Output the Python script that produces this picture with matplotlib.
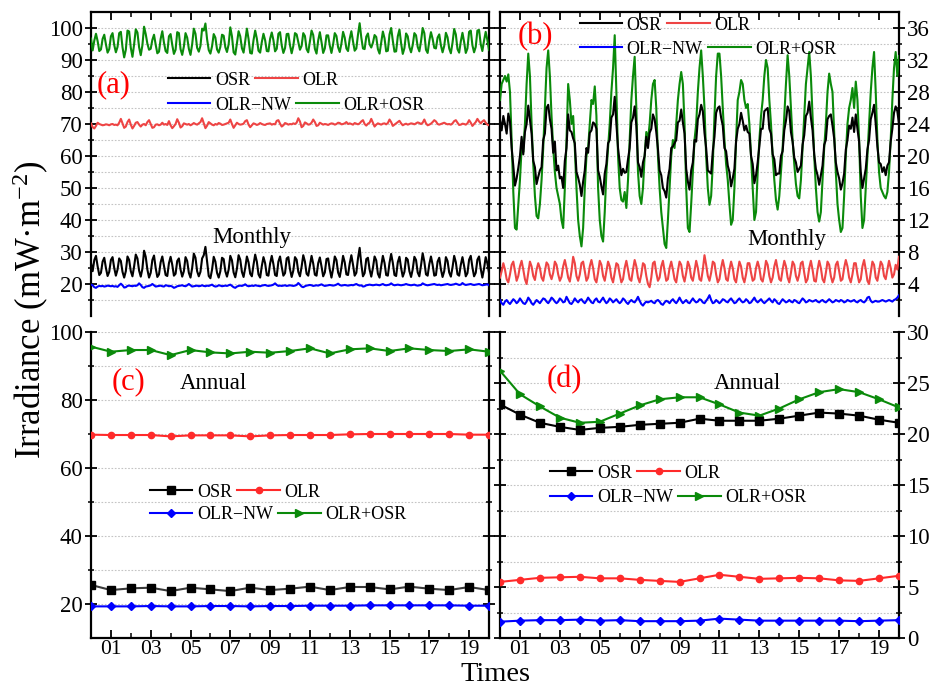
import numpy as np
import matplotlib
matplotlib.use("Agg")
import matplotlib.pyplot as plt
from matplotlib.ticker import FixedLocator, NullFormatter
from matplotlib.lines import Line2D

plt.rcParams["font.family"] = ["Liberation Serif", "DejaVu Serif"]
plt.rcParams["mathtext.fontset"] = "custom"
plt.rcParams["mathtext.rm"] = "Liberation Serif"
plt.rcParams["mathtext.it"] = "Liberation Serif:italic"

# ---------------- monthly series, panel (a) ----------------
osr_month_a = [
    26.5, 24.0, 27.5, 28.8, 25.5, 22.8, 23.5, 27.0, 28.2, 25.0, 22.5, 23.8,
    27.5, 28.4, 25.0, 22.6, 24.5, 28.0, 27.2, 23.8, 22.0, 24.0, 28.6, 27.5,
    24.0, 22.4, 25.5, 29.2, 28.0, 24.2, 22.3, 24.8, 30.4, 28.5, 24.5, 22.0,
    23.5, 27.5, 28.9, 25.0, 22.2, 23.0, 26.8, 28.6, 25.6, 22.8, 22.5, 26.5,
    28.5, 26.0, 22.6, 23.2, 27.2, 28.0, 24.5, 22.3, 24.0, 28.4, 27.2, 23.5,
    22.0, 25.0, 29.5, 28.2, 24.0, 22.4, 23.8, 28.0, 29.0, 31.6, 27.0, 22.5,
    21.8, 24.5, 28.5, 27.0, 23.5, 22.0, 24.0, 28.2, 27.8, 24.0, 22.3, 24.5,
    28.8, 27.4, 23.6, 22.1, 24.8, 29.0, 27.6, 23.8, 22.2, 25.0, 28.6, 26.8,
    23.2, 22.4, 26.0, 29.2, 27.0, 23.0, 22.0, 25.6, 28.4, 26.5, 22.8, 22.6,
    26.4, 28.8, 26.2, 22.8, 22.5, 27.0, 28.6, 25.4, 22.6, 23.4, 28.0, 28.4,
    24.6, 22.2, 24.2, 28.4, 27.6, 23.8, 22.4, 25.4, 29.0, 27.0, 23.2, 22.6,
    25.8, 28.8, 26.4, 22.9, 22.6, 26.5, 28.3, 25.5, 22.4, 23.6, 27.8, 28.0,
    24.5, 22.0, 24.8, 28.6, 27.5, 23.6, 22.2, 25.2, 28.8, 26.8, 23.0, 22.8,
    26.4, 29.0, 26.0, 22.6, 23.5, 28.0, 31.3, 26.2, 22.4, 23.4, 27.8, 28.2,
    24.5, 22.3, 25.0, 28.6, 27.4, 23.2, 22.0, 25.6, 28.8, 26.6, 22.8, 22.6,
    26.6, 29.4, 26.6, 22.8, 22.5, 26.8, 28.5, 25.0, 22.3, 23.8, 28.2, 27.6,
    24.0, 22.2, 24.6, 28.5, 27.5, 23.6, 22.4, 25.8, 29.6, 27.0, 23.0, 22.6,
    26.2, 28.6, 26.0, 22.6, 22.8, 27.0, 28.2, 24.6, 22.2, 24.0, 28.4, 27.2,
    23.6, 22.3, 25.2, 28.8, 26.8, 23.0, 22.6, 26.0, 28.4, 25.6, 22.4, 23.4,
    27.6, 28.8, 25.2, 22.4, 23.5, 27.6, 28.6, 24.8, 22.0, 24.8, 28.4, 26.5,
    23.5,
]
olr_month_a = [
    70.2, 69.0, 68.6, 69.4, 70.4, 70.0, 69.8, 69.6, 69.7, 69.9, 69.8, 69.6,
    69.9, 70.0, 69.7, 69.8, 69.6, 70.4, 71.6, 70.2, 68.8, 69.2, 70.6, 71.4,
    69.8, 68.6, 69.4, 70.4, 70.6, 69.8, 69.2, 69.8, 70.0, 69.6, 70.6, 71.2,
    70.0, 68.8, 69.0, 69.8, 69.9, 69.6, 69.8, 70.4, 69.8, 70.0, 69.7, 70.9,
    69.6, 68.7, 69.3, 70.0, 71.5, 70.4, 68.9, 69.3, 70.2, 70.0, 69.8, 70.0,
    69.6, 69.9, 70.3, 70.0, 69.8, 70.2, 70.6, 71.8, 70.2, 68.7, 69.5, 70.6,
    70.2, 69.8, 69.6, 70.0, 69.8, 70.3, 70.1, 69.7, 69.8, 70.0, 70.2, 70.4,
    71.4, 70.0, 68.8, 69.6, 70.4, 70.0, 69.8, 69.9, 70.1, 70.9, 71.2, 69.8,
    69.0, 69.6, 70.2, 70.0, 69.7, 69.9, 70.3, 70.0, 69.8, 69.7, 70.0, 70.1,
    70.2, 69.8, 70.0, 69.9, 71.0, 71.2, 70.1, 69.2, 69.6, 70.3, 70.1, 69.8,
    70.0, 69.9, 70.2, 70.0, 70.4, 71.8, 70.8, 69.0, 69.4, 70.5, 70.2, 69.8,
    69.9, 70.4, 71.4, 70.6, 69.4, 69.6, 70.4, 70.1, 69.8, 70.0, 69.9, 69.7,
    70.0, 70.2, 70.1, 69.8, 70.0, 70.4, 70.3, 69.9, 70.0, 70.2, 70.6, 70.0,
    70.2, 70.0, 69.8, 70.3, 70.1, 69.9, 70.2, 70.8, 71.2, 70.0, 69.5, 70.1,
    70.4, 71.6, 70.4, 69.2, 69.8, 70.2, 70.0, 69.8, 70.1, 70.2, 69.9, 70.3,
    71.4, 70.6, 69.4, 69.8, 70.2, 70.6, 71.0, 70.2, 69.6, 69.9, 70.1, 69.8,
    70.0, 70.2, 70.1, 69.9, 70.2, 70.5, 70.3, 70.0, 70.4, 71.4, 70.2, 69.6,
    69.8, 70.1, 70.6, 71.2, 70.8, 70.0, 69.8, 70.0, 70.2, 70.4, 70.1, 69.9,
    70.0, 69.8, 70.2, 70.9, 71.2, 70.4, 69.7, 69.8, 70.1, 70.0, 69.8, 70.2,
    71.2, 70.4, 69.4, 70.0, 70.6, 71.6, 70.8, 70.2, 70.8, 71.2, 70.4, 69.8,
    69.6,
]
nw_month_a = [
    19.8, 19.6, 19.0, 18.8, 19.2, 19.4, 19.3, 19.4, 19.2, 19.3, 19.5, 19.4,
    19.3, 19.4, 19.2, 19.3, 19.1, 19.6, 20.1, 19.6, 18.9, 19.0, 19.4, 19.5,
    19.4, 19.3, 19.5, 19.4, 19.6, 20.2, 19.7, 19.0, 18.8, 19.2, 19.3, 19.4,
    19.6, 20.0, 19.6, 19.2, 19.3, 19.4, 19.5, 19.3, 19.2, 19.6, 19.5, 19.3,
    19.4, 19.2, 18.8, 19.0, 19.3, 19.4, 19.5, 19.6, 19.4, 19.3, 19.6, 20.0,
    19.6, 19.2, 19.3, 19.4, 19.5, 19.3, 19.4, 19.6, 19.4, 19.3, 19.5, 19.4,
    19.6, 19.8, 19.4, 19.2, 19.3, 19.6, 19.5, 19.3, 19.4, 19.5, 19.4, 19.6,
    19.8, 19.4, 19.0, 18.8, 19.2, 19.4, 19.5, 19.4, 19.6, 19.9, 19.5, 19.3,
    19.4, 19.5, 19.4, 19.6, 19.5, 19.4, 19.3, 19.5, 19.6, 19.7, 19.5, 19.4,
    19.5, 19.6, 19.8, 20.2, 19.7, 19.4, 19.5, 19.4, 19.5, 19.6, 19.4, 19.5,
    19.6, 19.5, 19.4, 19.5, 19.7, 20.3, 19.8, 19.2, 19.0, 19.3, 19.5, 19.6,
    19.7, 19.6, 19.4, 19.5, 19.6, 19.5, 19.7, 19.9, 19.6, 19.4, 19.5, 19.6,
    19.7, 19.6, 19.5, 19.6, 19.8, 20.1, 19.7, 19.5, 19.6, 19.7, 19.6, 19.5,
    19.6, 19.7, 19.6, 19.8, 20.0, 19.7, 19.5, 19.6, 19.2, 19.3, 19.6, 19.7,
    19.8, 19.7, 19.6, 19.7, 19.8, 19.7, 19.6, 19.8, 20.0, 19.7, 19.6, 19.7,
    19.8, 20.2, 19.8, 19.6, 19.7, 19.8, 19.7, 19.6, 19.7, 19.8, 20.0, 19.8,
    19.7, 19.6, 19.7, 19.8, 19.6, 19.5, 19.6, 19.7, 20.2, 19.9, 19.7, 19.6,
    19.7, 19.8, 19.9, 20.0, 19.8, 19.7, 19.8, 19.6, 19.7, 19.8, 19.9, 20.0,
    19.8, 19.7, 19.8, 19.9, 20.1, 19.9, 19.7, 19.8, 20.3, 19.9, 19.7, 19.8,
    19.9, 20.0, 19.8, 19.7, 19.8, 19.9, 20.0, 19.8, 19.6, 19.7, 19.8, 19.9,
    19.6,
]
sum_month_a = [
    96.7, 93.0, 96.1, 98.2, 95.9, 92.8, 93.3, 96.6, 97.9, 94.9, 92.3, 93.4,
    97.4, 98.4, 94.7, 92.4, 94.1, 98.4, 98.8, 94.0, 90.8, 93.2, 99.2, 98.9,
    93.8, 91.0, 94.9, 99.6, 98.6, 94.0, 91.5, 94.6, 100.4, 98.1, 95.1, 93.2,
    93.5, 96.3, 97.9, 94.8, 92.1, 92.6, 96.6, 99.0, 95.4, 92.8, 92.2, 97.4,
    98.1, 94.7, 91.9, 93.2, 98.7, 98.4, 93.4, 91.6, 94.2, 98.4, 97.0, 93.5,
    91.6, 94.9, 99.8, 98.2, 93.8, 92.6, 94.4, 99.8, 99.2, 101.4, 96.5, 93.1,
    92.0, 94.3, 98.1, 97.0, 93.3, 92.3, 94.1, 97.9, 97.6, 94.0, 92.5, 94.9,
    100.2, 97.4, 92.4, 91.7, 95.2, 99.0, 97.4, 93.7, 92.3, 95.9, 99.8, 96.6,
    92.2, 92.0, 96.2, 99.2, 96.7, 92.9, 92.3, 95.6, 98.2, 96.2, 92.8, 92.7,
    96.6, 98.6, 96.2, 92.7, 93.5, 98.2, 98.7, 94.6, 92.2, 93.7, 98.1, 98.2,
    94.6, 92.1, 94.4, 98.4, 98.0, 95.6, 93.2, 94.4, 98.4, 97.5, 93.4, 92.4,
    95.7, 99.2, 97.8, 93.5, 92.0, 96.1, 98.7, 95.6, 92.2, 93.6, 97.7, 97.7,
    94.5, 92.2, 94.9, 98.4, 97.5, 94.0, 92.5, 95.1, 98.8, 97.0, 93.6, 92.8,
    96.6, 99.0, 95.8, 92.9, 93.6, 97.9, 101.5, 97.0, 93.6, 93.4, 97.3, 98.3,
    94.9, 93.9, 95.4, 97.8, 97.2, 93.4, 92.0, 95.4, 98.9, 96.8, 92.7, 92.9,
    98.0, 100.0, 96.0, 92.6, 92.7, 97.4, 99.5, 95.2, 91.9, 93.7, 98.3, 97.4,
    94.0, 92.4, 94.7, 98.4, 97.7, 94.1, 92.7, 95.8, 100.0, 98.4, 93.2, 92.2,
    96.0, 98.7, 96.6, 93.8, 93.6, 97.0, 98.0, 94.6, 92.4, 94.4, 98.5, 97.1,
    93.6, 92.1, 95.4, 99.7, 98.0, 93.4, 92.3, 95.8, 98.5, 95.6, 92.2, 93.6,
    98.8, 99.2, 94.6, 92.4, 94.1, 99.2, 99.4, 95.0, 92.8, 96.0, 98.8, 96.3,
    93.1,
]

# ---------------- monthly series, panel (b) ----------------
osr_month_b = [
    24.5, 23.2, 25.0, 24.0, 22.8, 25.3, 24.3, 21.0, 18.8, 16.3, 17.2, 18.5,
    20.0, 22.4, 20.2, 23.0, 24.0, 26.3, 24.6, 22.8, 19.4, 18.6, 16.5, 17.4,
    18.2, 18.6, 22.0, 22.8, 26.0, 26.4, 24.6, 23.4, 20.4, 21.8, 18.2, 18.8,
    17.2, 17.4, 16.0, 19.4, 21.0, 25.2, 23.2, 23.0, 22.2, 21.6, 18.0, 17.3,
    16.4, 15.0, 16.8, 18.2, 21.0, 20.4, 22.9, 23.2, 24.2, 24.0, 23.4, 18.2,
    17.4, 16.2, 15.2, 17.8, 19.0, 21.6, 22.0, 24.8, 25.2, 27.4, 24.0, 21.0,
    19.2, 17.6, 18.4, 17.9, 18.0, 19.6, 21.0, 24.2, 24.8, 26.2, 23.8, 19.2,
    18.6, 17.4, 19.2, 20.0, 22.4, 21.0, 22.9, 23.4, 25.2, 24.6, 23.0, 20.9,
    18.2, 17.6, 16.0, 15.6, 14.8, 17.2, 18.4, 21.0, 21.2, 21.6, 22.0, 24.2,
    24.4, 25.8, 24.2, 22.8, 18.4, 16.8, 15.8, 18.2, 19.2, 22.0, 21.8, 24.6,
    25.2, 26.4, 25.6, 22.9, 21.0, 18.2, 18.0, 17.8, 20.6, 22.4, 25.4, 26.0,
    26.2, 24.8, 23.8, 21.0, 20.6, 18.8, 18.0, 16.2, 17.2, 18.4, 21.8, 23.4,
    24.0, 25.4, 24.4, 23.2, 23.8, 23.0, 22.8, 20.0, 19.0, 16.6, 17.6, 19.2,
    21.2, 23.4, 23.4, 25.6, 25.8, 26.0, 23.4, 22.8, 20.2, 19.6, 17.6, 17.8,
    17.8, 20.0, 20.6, 23.2, 24.4, 26.2, 25.6, 23.0, 21.8, 19.8, 19.2, 18.0,
    18.4, 18.8, 21.4, 22.6, 25.0, 25.4, 26.8, 24.8, 23.2, 20.2, 18.4, 17.6,
    16.4, 17.6, 18.8, 21.4, 22.0, 24.6, 25.0, 25.2, 23.8, 22.2, 19.2, 18.0,
    17.2, 15.8, 16.6, 17.8, 20.8, 22.0, 23.8, 23.4, 24.8, 23.0, 25.2, 23.4,
    21.8, 18.0, 16.0, 17.2, 18.4, 20.8, 22.0, 24.6, 25.4, 26.4, 24.0, 21.2,
    19.2, 19.0, 18.0, 18.6, 17.6, 18.8, 19.2, 21.8, 23.4, 25.4, 26.2, 25.6,
    24.0,
]
olr_month_b = [
    4.8, 5.6, 6.6, 5.8, 4.6, 4.2, 5.2, 6.4, 6.8, 5.6, 4.4, 5.0,
    6.2, 6.9, 5.8, 4.6, 4.0, 5.4, 6.8, 6.2, 5.0, 4.5, 5.8, 6.6,
    6.0, 4.8, 4.4, 5.6, 6.7, 6.4, 5.2, 4.6, 5.4, 6.8, 6.4, 5.2,
    4.4, 4.9, 6.2, 7.0, 6.0, 4.8, 4.3, 5.6, 7.4, 6.6, 5.0, 4.4,
    5.2, 6.6, 6.8, 5.6, 4.4, 4.8, 6.2, 7.0, 6.0, 4.6, 4.2, 5.4,
    6.9, 6.4, 5.0, 4.4, 5.6, 6.8, 6.2, 4.8, 4.2, 5.4, 6.6, 6.4,
    5.2, 4.2, 4.6, 6.0, 6.9, 5.8, 4.6, 4.4, 5.8, 7.0, 6.2, 4.8,
    4.2, 5.2, 6.6, 6.4, 5.0, 4.0, 3.6, 4.8, 6.6, 6.8, 5.4, 4.4,
    4.8, 6.2, 6.9, 5.6, 4.4, 4.6, 6.0, 6.8, 5.8, 4.6, 4.2, 5.6,
    6.8, 6.4, 5.0, 4.3, 5.4, 6.8, 6.2, 4.8, 4.4, 5.6, 6.9, 6.0,
    4.6, 4.4, 5.8, 7.6, 6.4, 5.0, 4.4, 5.4, 6.8, 6.6, 5.2, 4.2,
    4.6, 6.0, 7.0, 6.0, 4.6, 4.4, 5.8, 6.8, 6.0, 4.6, 4.2, 5.6,
    6.8, 6.2, 4.8, 4.2, 5.2, 6.6, 6.6, 5.4, 4.4, 4.6, 6.0, 6.8,
    6.0, 4.6, 4.3, 5.4, 6.9, 6.4, 5.0, 4.2, 4.8, 6.2, 7.0, 5.8,
    4.6, 4.4, 5.8, 6.9, 6.2, 4.8, 4.2, 5.4, 6.8, 6.4, 5.0, 4.4,
    5.2, 6.6, 6.8, 5.4, 4.2, 4.6, 6.0, 6.9, 5.8, 4.4, 4.3, 5.8,
    6.9, 6.0, 4.6, 4.2, 5.4, 6.8, 6.4, 5.0, 4.2, 4.8, 6.4, 6.8,
    5.6, 4.4, 4.6, 6.0, 7.0, 6.2, 4.8, 4.2, 5.2, 6.6, 6.6, 5.2,
    4.2, 4.6, 6.2, 7.0, 5.8, 4.4, 4.0, 5.4, 6.8, 6.4, 4.8, 4.4,
    5.6, 6.8, 6.4, 5.0, 4.6, 5.8, 6.9, 6.0, 4.8, 5.2, 6.4, 5.8,
    7.4,
]
nw_month_b = [
    2.0, 1.6, 1.4, 1.8, 2.0, 1.7, 1.5, 1.8, 2.1, 1.9, 1.6, 1.8,
    2.2, 1.9, 1.6, 1.5, 1.8, 2.3, 2.0, 1.6, 1.4, 1.7, 2.0, 1.8,
    1.6, 1.9, 2.2, 2.1, 1.8, 1.6, 1.9, 2.3, 2.1, 1.8, 1.6, 1.8,
    2.2, 2.0, 1.7, 1.8, 2.4, 2.0, 1.6, 1.5, 1.8, 2.2, 1.9, 1.7,
    2.0, 2.1, 1.8, 1.6, 1.9, 2.3, 2.0, 1.7, 1.6, 2.0, 2.2, 1.8,
    1.7, 2.0, 2.3, 1.9, 1.6, 1.8, 2.2, 2.0, 1.7, 1.9, 2.1, 1.8,
    1.6, 1.8, 2.2, 2.0, 1.7, 1.5, 1.8, 2.0, 1.8, 1.7, 2.0, 2.4,
    1.9, 1.5, 1.3, 1.6, 1.8, 1.7, 1.8, 1.9, 1.7, 1.6, 1.9, 2.0,
    1.8, 1.5, 1.4, 1.7, 1.9, 1.8, 1.6, 1.9, 2.1, 1.8, 1.6, 1.9,
    2.3, 1.9, 1.6, 1.8, 2.0, 1.7, 1.6, 1.9, 2.2, 1.9, 1.7, 1.8,
    2.1, 2.0, 1.7, 1.6, 1.9, 2.2, 2.6, 2.0, 1.6, 1.7, 2.0, 1.8,
    1.6, 1.8, 2.1, 2.0, 1.8, 1.7, 2.0, 2.2, 1.9, 1.6, 1.7, 2.0,
    2.2, 1.9, 1.7, 1.8, 2.1, 1.9, 1.6, 1.7, 2.0, 2.3, 1.9, 1.7,
    1.9, 2.1, 1.8, 1.6, 1.8, 2.0, 2.2, 1.9, 1.7, 2.1, 1.9, 1.6,
    1.5, 1.8, 2.1, 1.9, 1.7, 1.8, 2.0, 1.8, 1.7, 2.0, 1.9, 1.7,
    1.6, 1.9, 2.2, 2.0, 1.7, 1.8, 2.0, 1.9, 1.8, 1.9, 2.0, 1.8,
    1.7, 1.9, 2.0, 1.8, 1.7, 1.9, 2.1, 1.9, 1.7, 1.8, 2.0, 1.9,
    1.8, 2.0, 1.9, 1.7, 1.8, 2.0, 1.9, 1.8, 1.9, 2.0, 1.8, 1.7,
    1.9, 2.0, 1.8, 1.7, 1.9, 2.3, 2.4, 1.9, 1.7, 1.8, 1.9, 1.8,
    1.8, 1.9, 2.0, 1.9, 1.8, 1.9, 2.0, 1.9, 1.8, 2.0, 2.1, 2.3,
    2.6,
]
sum_month_b = [
    27.0, 29.0, 29.5, 30.0, 29.3, 30.2, 28.0, 22.0, 15.5, 11.0, 10.8, 14.0,
    17.0, 21.0, 20.5, 24.0, 29.0, 32.8, 30.0, 24.0, 19.0, 15.0, 12.5, 12.2,
    14.0, 17.0, 21.0, 26.0, 31.0, 33.2, 30.0, 25.0, 21.0, 18.0, 16.0, 15.0,
    14.0, 12.0, 11.0, 16.0, 22.0, 29.0, 27.0, 24.0, 25.0, 21.0, 16.0, 12.0,
    10.0, 8.7, 11.0, 16.0, 20.0, 21.0, 24.0, 27.0, 26.5, 28.7, 25.0, 16.0,
    12.0, 10.0, 9.3, 13.0, 18.0, 21.0, 24.0, 28.0, 31.0, 35.1, 28.0, 20.0,
    16.0, 14.5, 14.3, 15.5, 13.5, 17.0, 22.0, 27.0, 30.0, 32.4, 26.0, 18.0,
    15.0, 14.0, 16.0, 20.0, 23.0, 22.0, 24.0, 27.0, 29.0, 29.5, 26.0, 20.0,
    16.0, 13.0, 11.0, 9.0, 8.5, 12.0, 16.0, 20.0, 22.0, 21.0, 24.0, 27.0,
    29.0, 30.5, 29.0, 24.0, 16.0, 11.0, 10.5, 14.0, 18.0, 22.0, 24.0, 28.0,
    31.0, 33.2, 30.0, 26.0, 20.0, 16.0, 13.9, 15.0, 19.0, 25.0, 30.0, 32.8,
    32.8, 30.0, 26.0, 22.0, 19.0, 17.0, 14.0, 11.4, 12.0, 16.0, 22.0, 27.0,
    28.0, 29.5, 29.0, 27.0, 26.0, 26.5, 24.0, 20.0, 16.0, 12.0, 13.0, 18.0,
    22.0, 25.0, 27.0, 30.0, 32.0, 31.0, 27.0, 24.0, 20.0, 17.0, 14.5, 13.3,
    15.0, 18.0, 21.0, 25.0, 29.0, 32.6, 30.0, 26.0, 22.0, 19.0, 16.5, 15.0,
    14.7, 17.0, 21.0, 25.0, 29.0, 31.0, 33.0, 30.0, 25.0, 20.0, 16.0, 13.0,
    11.8, 13.0, 17.0, 21.0, 24.0, 28.0, 30.3, 29.0, 28.0, 23.0, 18.0, 14.0,
    12.0, 10.5, 11.0, 15.0, 20.0, 24.0, 26.0, 27.0, 28.5, 26.0, 29.3, 27.0,
    22.0, 15.0, 11.0, 12.0, 16.0, 20.0, 24.0, 28.0, 31.0, 33.0, 28.0, 22.0,
    18.0, 16.0, 15.5, 15.0, 14.7, 15.5, 18.0, 22.0, 27.0, 31.0, 33.0, 30.0,
    32.5,
]

# ---------------- annual series, panels (c) and (d) ----------------
years = list(range(21))
osr_year_c = [25.6, 24.1, 24.6, 24.8, 23.8, 24.8, 24.3, 23.8, 24.8, 24.1, 24.5,
              25.1, 24.1, 25.0, 25.0, 24.3, 25.1, 24.5, 24.1, 25.0, 24.1]
olr_year_c = [69.8, 69.7, 69.7, 69.7, 69.3, 69.6, 69.6, 69.6, 69.3, 69.6, 69.7,
              69.7, 69.7, 69.9, 70.0, 70.0, 70.0, 70.0, 70.0, 69.8, 69.8]
nw_year_c = [19.3, 19.3, 19.3, 19.4, 19.3, 19.3, 19.4, 19.4, 19.3, 19.4, 19.4,
             19.5, 19.5, 19.5, 19.6, 19.6, 19.6, 19.6, 19.6, 19.5, 19.5]
sum_year_c = [95.7, 94.2, 94.7, 94.7, 93.2, 94.7, 94.0, 93.7, 94.2, 93.9, 94.4,
              95.2, 93.7, 94.9, 95.2, 94.4, 95.2, 94.7, 94.4, 94.9, 94.2]

osr_year_d = [22.9, 21.9, 21.1, 20.7, 20.4, 20.6, 20.7, 20.9, 21.0, 21.1, 21.5,
              21.3, 21.3, 21.3, 21.5, 21.8, 22.1, 22.0, 21.8, 21.4, 21.1]
olr_year_d = [5.5, 5.7, 5.9, 5.95, 6.0, 5.85, 5.85, 5.7, 5.6, 5.5, 5.85,
              6.2, 6.0, 5.8, 5.85, 5.9, 5.85, 5.65, 5.6, 5.85, 6.1]
nw_year_d = [1.6, 1.7, 1.75, 1.75, 1.8, 1.7, 1.75, 1.65, 1.65, 1.65, 1.7,
             1.9, 1.8, 1.7, 1.7, 1.7, 1.7, 1.7, 1.65, 1.7, 1.75]
sum_year_d = [26.2, 23.9, 22.7, 21.6, 21.1, 21.2, 22.0, 22.8, 23.4, 23.6, 23.6,
              22.9, 22.1, 21.8, 22.5, 23.4, 24.1, 24.4, 24.1, 23.4, 22.6]

x_tick_labels = ["01", "03", "05", "07", "09", "11", "13", "15", "17", "19"]
yticks_a = [20, 30, 40, 50, 60, 70, 80, 90, 100]
yticks_b = [4, 8, 12, 16, 20, 24, 28, 32, 36]
yticks_c = [20, 40, 60, 80, 100]
yticks_d = [0, 5, 10, 15, 20, 25, 30]
legend_names = ["OSR", "OLR", "OLR\u2212NW", "OLR+OSR"]

months = np.arange(len(osr_month_a)) / 12.0

C_BLACK = "#000000"
C_RED_M = "#ee4444"
C_RED_Y = "#ff2a2a"
C_BLUE = "#0000ff"
C_GREEN = "#0a8a0a"

W, H = 934, 688
fig = plt.figure(figsize=(W / 100, H / 100), dpi=100)


def rect(l, t, r, b):
    return [l / W, 1 - b / H, (r - l) / W, (b - t) / H]


ax_a = fig.add_axes(rect(91, 12, 489, 316))
ax_b = fig.add_axes(rect(500, 12, 899, 316))
ax_c = fig.add_axes(rect(91, 332, 489, 638))
ax_d = fig.add_axes(rect(500, 332, 899, 638))

GRID_KW = dict(color="#c4c4c4", linestyle=(0, (1.5, 1.5)), linewidth=0.8)


def style_axes(ax, top_row, label_right, ylim, majors, step_minor):
    ax.set_xlim(0, 20)
    ax.set_ylim(*ylim)
    ax.xaxis.set_major_locator(FixedLocator(np.arange(1, 20, 2)))
    ax.xaxis.set_minor_locator(FixedLocator(np.arange(2, 20, 2)))
    ax.yaxis.set_major_locator(FixedLocator(majors))
    minors = np.arange(ylim[0], ylim[1] + 1e-9, step_minor)
    minors = [m for m in minors if m not in majors and ylim[0] < m < ylim[1]]
    ax.yaxis.set_minor_locator(FixedLocator(minors))
    for s in ax.spines.values():
        s.set_linewidth(1.6)
    if top_row:
        ax.spines["bottom"].set_visible(False)
        ax.tick_params(axis="x", which="both", bottom=False, top=True,
                       labelbottom=False, direction="in")
    else:
        ax.spines["top"].set_visible(False)
        ax.tick_params(axis="x", which="both", bottom=True, top=False,
                       labelbottom=True, direction="in")
        ax.set_xticklabels(x_tick_labels)
    ax.tick_params(axis="x", which="major", length=6, width=1.3, labelsize=15.5, pad=1.5)
    ax.tick_params(axis="x", which="minor", length=3.5, width=1.1)
    ax.tick_params(axis="y", which="both", left=True, right=True,
                   labelleft=not label_right, labelright=label_right,
                   direction="inout")
    ax.tick_params(axis="y", which="major", length=8, width=1.3,
                   labelsize=16.5, pad=2)
    ax.tick_params(axis="y", which="minor", length=5, width=1.1)
    ax.yaxis.set_minor_formatter(NullFormatter())
    ax.grid(True, axis="y", which="both", **GRID_KW)
    ax.set_axisbelow(True)


style_axes(ax_a, True, False, (10, 105), yticks_a, 5)
style_axes(ax_b, True, True, (0, 38), yticks_b, 2)
style_axes(ax_c, False, False, (10, 100), yticks_c, 10)
style_axes(ax_d, False, True, (0, 30), yticks_d, 2.5)

# monthly panels
LW_M = 1.5
for ax, osr, olr, nw, sm in [
    (ax_a, osr_month_a, olr_month_a, nw_month_a, sum_month_a),
    (ax_b, osr_month_b, olr_month_b, nw_month_b, sum_month_b),
]:
    ax.plot(months, sm, color=C_GREEN, lw=LW_M, zorder=3)
    ax.plot(months, olr, color=C_RED_M, lw=LW_M, zorder=3)
    ax.plot(months, osr, color=C_BLACK, lw=LW_M, zorder=4)
    ax.plot(months, nw, color=C_BLUE, lw=LW_M, zorder=3)

# annual panels
MK = dict(lw=1.5, ms=5.5, zorder=4)
for ax, osr, olr, nw, sm, osr_line in [
    (ax_c, osr_year_c, olr_year_c, nw_year_c, sum_year_c, "#3a3a3a"),
    (ax_d, osr_year_d, olr_year_d, nw_year_d, sum_year_d, "#000000"),
]:
    ax.plot(years, sm, color=C_GREEN, marker=">", **MK)
    ax.plot(years, olr, color=C_RED_Y, marker="o", **dict(MK, ms=4.5))
    ax.plot(years, osr, color=osr_line, marker="s", mfc="black", mec="black", **MK)
    ax.plot(years, nw, color=C_BLUE, marker="D", **dict(MK, ms=4.5))


def add_legend_rows(ax, handles, x, y1, y2):
    kw = dict(loc="center left", ncol=2, frameon=False, fontsize=13,
              handlelength=2.35, handletextpad=0.25, columnspacing=0.3,
              borderpad=0, borderaxespad=0)
    l1 = ax.legend(handles[:2], legend_names[:2], bbox_to_anchor=(x, y1), **kw)
    ax.add_artist(l1)
    ax.legend(handles[2:], legend_names[2:], bbox_to_anchor=(x, y2), **kw)


h_month = [Line2D([], [], color=c, lw=LW_M) for c in (C_BLACK, C_RED_M, C_BLUE, C_GREEN)]
h_year = [
    Line2D([], [], color="#000000", lw=1.5, marker="s", ms=5.5),
    Line2D([], [], color=C_RED_Y, lw=1.5, marker="o", ms=4.5),
    Line2D([], [], color=C_BLUE, lw=1.5, marker="D", ms=4.5),
    Line2D([], [], color=C_GREEN, lw=1.5, marker=">", ms=5.5),
]

add_legend_rows(ax_a, h_month, 0.193, 0.776, 0.694)
add_legend_rows(ax_b, h_month, 0.200, 0.957, 0.878)
add_legend_rows(ax_c, h_year, 0.148, 0.477, 0.402)
add_legend_rows(ax_d, h_year, 0.125, 0.539, 0.458)

# panel tags and period labels
TAG = dict(color="#ff0000", fontsize=22, va="center", ha="left")
ax_a.text(0.015, 0.76, "(a)", transform=ax_a.transAxes, **TAG)
ax_b.text(0.045, 0.918, "(b)", transform=ax_b.transAxes, **TAG)
ax_c.text(0.053, 0.837, "(c)", transform=ax_c.transAxes, **TAG)
ax_d.text(0.118, 0.843, "(d)", transform=ax_d.transAxes, **TAG)

PER = dict(color="black", fontsize=16.5, va="center", ha="left")
ax_a.text(0.304, 0.257, "Monthly", transform=ax_a.transAxes, **PER)
ax_b.text(0.619, 0.250, "Monthly", transform=ax_b.transAxes, **PER)
ax_c.text(0.224, 0.833, "Annual", transform=ax_c.transAxes, **PER)
ax_d.text(0.536, 0.833, "Annual", transform=ax_d.transAxes, **PER)

fig.text(31 / W, 1 - 310 / H, "Irradiance (mW\u00b7m$^{-2}$)", rotation=90,
         fontsize=25, ha="center", va="center")
fig.text(495 / W, 1 - 681 / H, "Times", fontsize=20.5, ha="center", va="baseline")

fig.savefig("out.png", dpi=100)
